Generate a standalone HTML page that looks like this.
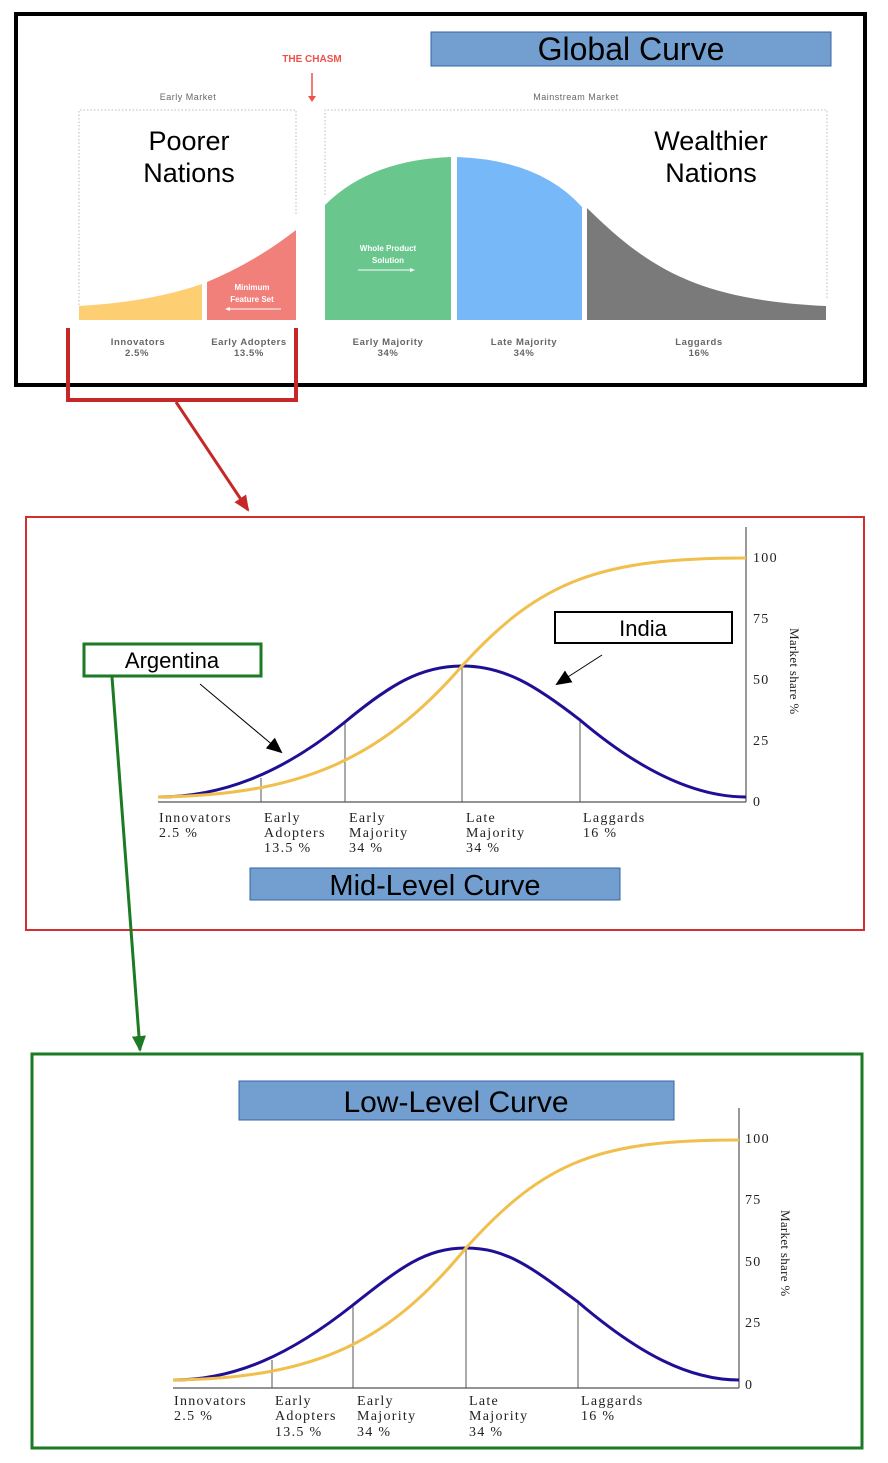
<!DOCTYPE html>
<html><head><meta charset="utf-8"><style>
html,body{margin:0;padding:0;background:#fff;}
svg{display:block;}
</style></head><body>
<svg width="888" height="1463" viewBox="0 0 888 1463" xmlns="http://www.w3.org/2000/svg" font-family="Liberation Sans, sans-serif">
<defs>
<marker id="ar" markerWidth="16" markerHeight="14" refX="14" refY="7" orient="auto" markerUnits="userSpaceOnUse"><path d="M0,0 L16,7 L0,14 z" fill="#c62828"/></marker>
<marker id="ag" markerWidth="16" markerHeight="14" refX="14" refY="7" orient="auto" markerUnits="userSpaceOnUse"><path d="M0,0 L16,7 L0,14 z" fill="#1b7a23"/></marker>
<marker id="ak" markerWidth="16" markerHeight="14" refX="14" refY="7" orient="auto" markerUnits="userSpaceOnUse"><path d="M0,0 L16,7 L0,14 z" fill="#000"/></marker>
</defs>

<!-- TOP -->
<rect x="16" y="14" width="849" height="371" fill="#fff" stroke="#000" stroke-width="4"/>
<rect x="431" y="32" width="400" height="34" fill="#729fcf" stroke="#3465a4" stroke-width="1"/>
<text x="631" y="60" font-size="32" text-anchor="middle" fill="#000">Global Curve</text>
<text x="312" y="62" font-size="10" font-weight="bold" fill="#f0504a" text-anchor="middle">THE CHASM</text>
<line x1="312" y1="73" x2="312" y2="98" stroke="#f0504a" stroke-width="1.5"/>
<path d="M308,96 L316,96 L312,102 z" fill="#f0504a"/>
<text x="188" y="100" font-size="9" fill="#666" text-anchor="middle" letter-spacing="0.5">Early Market</text>
<text x="576" y="100" font-size="9" fill="#666" text-anchor="middle" letter-spacing="0.5">Mainstream Market</text>
<path d="M79,305 L79,110 L296,110 L296,215" fill="none" stroke="#bbb" stroke-dasharray="1.5,2"/>
<path d="M325,195 L325,110 L827,110 L827,300" fill="none" stroke="#bbb" stroke-dasharray="1.5,2"/>
<text x="189" y="150" font-size="27" text-anchor="middle">Poorer</text>
<text x="189" y="182" font-size="27" text-anchor="middle">Nations</text>
<text x="711" y="150" font-size="27" text-anchor="middle">Wealthier</text>
<text x="711" y="182" font-size="27" text-anchor="middle">Nations</text>
<path d="M79,306 Q150,302 202,284 L202,320 L79,320 z" fill="#fecf72"/>
<path d="M207,282 Q255,262 296,230 L296,320 L207,320 z" fill="#f17f7a"/>
<path d="M325,205 Q370,160 451,157 L451,320 L325,320 z" fill="#69c68d"/>
<path d="M457,157 Q540,160 582,207 L582,320 L457,320 z" fill="#77b8f8"/>
<path d="M587,208 C650,270 700,300 826,306 L826,320 L587,320 z" fill="#7a7a7a"/>
<text x="388" y="251" font-size="8" font-weight="bold" fill="#fff" text-anchor="middle">Whole Product</text>
<text x="388" y="263" font-size="8" font-weight="bold" fill="#fff" text-anchor="middle">Solution</text>
<line x1="358" y1="270" x2="412" y2="270" stroke="#fff"/>
<path d="M410,268 L415,270 L410,272 z" fill="#fff"/>
<text x="252" y="290" font-size="8" font-weight="bold" fill="#fff" text-anchor="middle">Minimum</text>
<text x="252" y="302" font-size="8" font-weight="bold" fill="#fff" text-anchor="middle">Feature Set</text>
<line x1="228" y1="309" x2="281" y2="309" stroke="#fff"/>
<path d="M230,307 L225,309 L230,311 z" fill="#fff"/>
<g font-size="9.5" fill="#666" text-anchor="middle" font-weight="bold" letter-spacing="0.6">
<text x="138" y="345">Innovators</text><text x="137" y="356">2.5%</text>
<text x="249" y="345">Early Adopters</text><text x="249" y="356">13.5%</text>
<text x="388" y="345">Early Majority</text><text x="388" y="356">34%</text>
<text x="524" y="345">Late Majority</text><text x="524" y="356">34%</text>
<text x="699" y="345">Laggards</text><text x="699" y="356">16%</text>
</g>
<path d="M68,328 L68,400 L296,400 L296,328" fill="none" stroke="#c62828" stroke-width="4"/>
<line x1="176" y1="402" x2="248" y2="510" stroke="#c62828" stroke-width="3" marker-end="url(#ar)"/>

<!-- MID -->
<rect x="26" y="517" width="838" height="413" fill="none" stroke="#d32f2f" stroke-width="2"/>
<line x1="158" y1="802" x2="746" y2="802" stroke="#555" stroke-width="1.2"/>
<line x1="746" y1="527" x2="746" y2="802" stroke="#555" stroke-width="1.2"/>
<g stroke="#555" stroke-width="1"><line x1="261" y1="778" x2="261" y2="802"/><line x1="345" y1="722" x2="345" y2="802"/><line x1="462" y1="666" x2="462" y2="802"/><line x1="580" y1="718" x2="580" y2="802"/></g>
<path d="M158,797 C220,797 280,775 345,722 C390,685 420,666 462,666 C504,666 535,685 580,720 C645,775 700,797 746,797" fill="none" stroke="#1f0f94" stroke-width="3"/>
<path d="M158,797 C300,795 380,760 462,666 C540,580 600,558 746,558" fill="none" stroke="#f0bf4c" stroke-width="3"/>
<g font-family="Liberation Serif, serif" font-size="14" fill="#222" letter-spacing="1.3">
<text x="753" y="562">100</text><text x="753" y="623">75</text><text x="753" y="684">50</text><text x="753" y="745">25</text><text x="753" y="806">0</text>
<text transform="translate(790,628) rotate(90)" font-size="13" letter-spacing="0.3">Market share %</text>
<text x="159" y="822">Innovators</text><text x="159" y="837">2.5 %</text>
<text x="264" y="822">Early</text><text x="264" y="837">Adopters</text><text x="264" y="852">13.5 %</text>
<text x="349" y="822">Early</text><text x="349" y="837">Majority</text><text x="349" y="852">34 %</text>
<text x="466" y="822">Late</text><text x="466" y="837">Majority</text><text x="466" y="852">34 %</text>
<text x="583" y="822">Laggards</text><text x="583" y="837">16 %</text>
</g>
<rect x="250" y="868" width="370" height="32" fill="#729fcf" stroke="#3465a4"/>
<text x="435" y="895" font-size="29" text-anchor="middle">Mid-Level Curve</text>
<rect x="555" y="612" width="177" height="31" fill="#fff" stroke="#000" stroke-width="2"/>
<text x="643" y="636" font-size="22" text-anchor="middle">India</text>
<line x1="602" y1="655" x2="557" y2="684" stroke="#000" stroke-width="1" marker-end="url(#ak)"/>
<rect x="84" y="644" width="177" height="32" fill="#fff" stroke="#1b7a23" stroke-width="3"/>
<text x="172" y="668" font-size="22" text-anchor="middle">Argentina</text>
<line x1="200" y1="684" x2="281" y2="752" stroke="#000" stroke-width="1" marker-end="url(#ak)"/>
<line x1="112" y1="677" x2="140" y2="1050" stroke="#1b7a23" stroke-width="3" marker-end="url(#ag)"/>

<!-- LOW -->
<rect x="32" y="1054" width="830" height="394" fill="none" stroke="#1b7a23" stroke-width="3"/>
<rect x="239" y="1081" width="435" height="39" fill="#729fcf" stroke="#3465a4"/>
<text x="456" y="1112" font-size="30" text-anchor="middle">Low-Level Curve</text>
<line x1="173" y1="1388" x2="739" y2="1388" stroke="#555" stroke-width="1.2"/>
<line x1="739" y1="1108" x2="739" y2="1388" stroke="#555" stroke-width="1.2"/>
<g stroke="#555" stroke-width="1"><line x1="272" y1="1360" x2="272" y2="1388"/><line x1="353" y1="1305" x2="353" y2="1388"/><line x1="466" y1="1248" x2="466" y2="1388"/><line x1="578" y1="1300" x2="578" y2="1388"/></g>
<path d="M173,1380 C235,1380 290,1355 353,1305 C400,1268 425,1248 466,1248 C507,1248 532,1268 578,1302 C640,1355 690,1380 739,1380" fill="none" stroke="#1f0f94" stroke-width="3"/>
<path d="M173,1380 C320,1378 390,1340 466,1248 C545,1160 600,1140 739,1140" fill="none" stroke="#f0bf4c" stroke-width="3"/>
<g font-family="Liberation Serif, serif" font-size="14" fill="#222" letter-spacing="1.3">
<text x="745" y="1143">100</text><text x="745" y="1204">75</text><text x="745" y="1266">50</text><text x="745" y="1327">25</text><text x="745" y="1389">0</text>
<text transform="translate(781,1210) rotate(90)" font-size="13" letter-spacing="0.3">Market share %</text>
<text x="174" y="1405">Innovators</text><text x="174" y="1420">2.5 %</text>
<text x="275" y="1405">Early</text><text x="275" y="1420">Adopters</text><text x="275" y="1436">13.5 %</text>
<text x="357" y="1405">Early</text><text x="357" y="1420">Majority</text><text x="357" y="1436">34 %</text>
<text x="469" y="1405">Late</text><text x="469" y="1420">Majority</text><text x="469" y="1436">34 %</text>
<text x="581" y="1405">Laggards</text><text x="581" y="1420">16 %</text>
</g>
</svg>
</body></html>
